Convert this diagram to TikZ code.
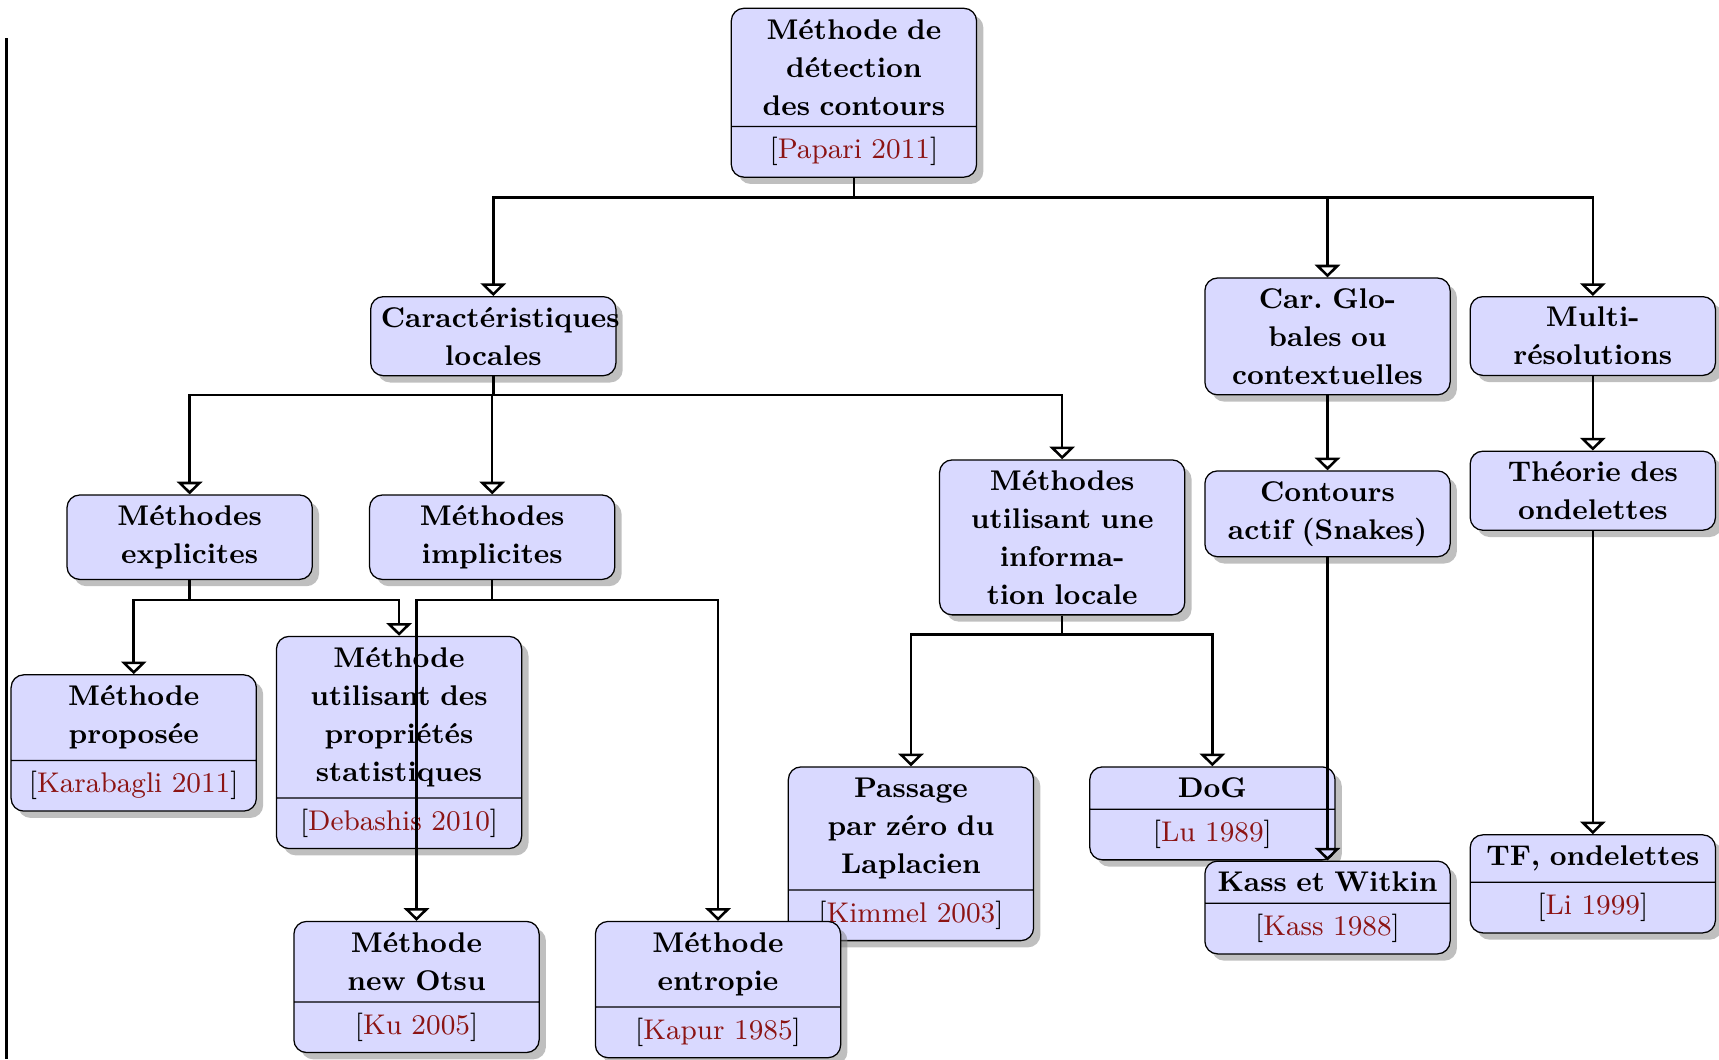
\documentclass[tikz,border=0pt]{standalone}
\usetikzlibrary{positioning}
\usetikzlibrary{shapes.multipart}
\usetikzlibrary{shadows}
\usetikzlibrary{arrows.meta}

\definecolor{citered}{RGB}{140,20,20}
\newcommand{\refcite}[1]{\normalfont[\textcolor{citered}{#1}]}

\begin{document}
\begin{tikzpicture}[
		box/.style = {draw, rounded corners, fill = blue!15, drop shadow, text width = 2.5cm, inner xsep = 3.2pt, inner ysep = 3.3pt, align = center, font = \fontsize{9}{12}\selectfont\bfseries},
		refbox/.style = {box, rectangle split, rectangle split parts = 2},
		link/.style = {black, thick, -{Triangle[open, width = 8pt, length = 4pt]}}
	]
	\useasboundingbox (0, 0) rectangle (19.1, -11.77);
	\draw [black, thick] (0.073, -0.426) -- (0.073, -11.77);

	% level 0
	\node [refbox, anchor = north] (root) at (9.488, -0.085) {M\'ethode de\\d\'etection\\des contours \nodepart{two}\refcite{Papari 2011}};

	% level 1
	\node [box, anchor = north] (caract) at (5.481, -3.289) {Caract\'eristiques\\locales};
	\node [box, anchor = north] (carglo) at (14.750, -3.082) {Car.\ Glo-\\bales ou\\contextuelles};
	\node [box, anchor = north] (multi) at (17.698, -3.289) {Multi-\\r\'esolutions};

	% level 2
	\node [box, anchor = north] (explicit) at (2.107, -5.493) {M\'ethodes\\explicites};
	\node [box, anchor = north] (implicit) at (5.469, -5.493) {M\'ethodes\\implicites};
	\node [box, anchor = north] (infoloc) at (11.802, -5.103) {M\'ethodes\\utilisant une\\informa-\\tion locale};
	\node [box, anchor = north] (snakes) at (14.750, -5.225) {Contours\\actif (Snakes)};
	\node [box, anchor = north] (theorie) at (17.698, -5.006) {Th\'eorie des\\ondelettes};

	% level 3
	\node [refbox, anchor = north] (proposee) at (1.486, -7.491) {M\'ethode\\propos\'ee \nodepart{two}\refcite{Karabagli 2011}};
	\node [refbox, anchor = north] (stat) at (4.434, -7.064) {M\'ethode\\utilisant des\\propri\'et\'es\\statistiques \nodepart{two}\refcite{Debashis 2010}};
	\node [refbox, anchor = north] (passage) at (10.122, -8.514) {Passage\\par z\'ero du\\Laplacien \nodepart{two}\refcite{Kimmel 2003}};
	\node [refbox, anchor = north] (dog) at (13.471, -8.514) {DoG \nodepart{two}\refcite{Lu 1989}};
	\node [refbox, anchor = north] (kass) at (14.750, -9.561) {Kass et Witkin \nodepart{two}\refcite{Kass 1988}};
	\node [refbox, anchor = north] (tf) at (17.698, -9.269) {TF, ondelettes \nodepart{two}\refcite{Li 1999}};
	\node [refbox, anchor = north] (otsu) at (4.628, -10.231) {M\'ethode\\new Otsu \nodepart{two}\refcite{Ku 2005}};
	\node [refbox, anchor = north] (entropie) at (7.978, -10.231) {M\'ethode\\entropie \nodepart{two}\refcite{Kapur 1985}};

	% connectors
	\foreach \child in {caract, carglo, multi}
		\draw [link] (root.south) -- ++(0, -0.22) -| (\child.north);
	\foreach \child in {explicit, implicit, infoloc}
		\draw [link] (caract.south) -- ++(0, -0.21) -| (\child.north);
	\foreach \child in {proposee, stat}
		\draw [link] (explicit.south) -- ++(0, -0.22) -| (\child.north);
	\foreach \child in {otsu, entropie}
		\draw [link] (implicit.south) -- ++(0, -0.22) -| (\child.north);
	\foreach \child in {passage, dog}
		\draw [link] (infoloc.south) -- ++(0, -0.21) -| (\child.north);
	\draw [link] (carglo) -- (snakes);
	\draw [link] (snakes) -- (kass);
	\draw [link] (multi) -- (theorie);
	\draw [link] (theorie) -- (tf);
\end{tikzpicture}
\end{document}
